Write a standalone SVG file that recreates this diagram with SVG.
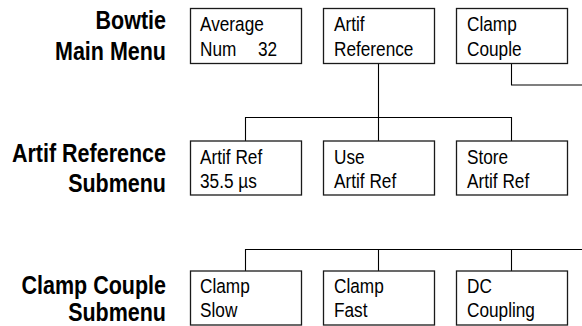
<svg xmlns="http://www.w3.org/2000/svg" width="582" height="326" viewBox="0 0 582 326">
<style>
.bg{fill:#ffffff}
.box{fill:#ffffff;stroke:#1a1a1a;stroke-width:1.3}
.conn{fill:none;stroke:#000000;stroke-width:1.1}
.lbl{font-family:"Liberation Sans",Arial,sans-serif;font-weight:bold;font-size:25px;fill:#000000;text-anchor:end}
.txt{font-family:"Liberation Sans",Arial,sans-serif;font-size:20.5px;fill:#000000}
</style>
<rect class="bg" x="0" y="0" width="582" height="326"/>
<g id="labels">
<text class="lbl" transform="translate(166 28.5) scale(0.86 1)">Bowtie</text>
<text class="lbl" transform="translate(166 59.5) scale(0.86 1)">Main Menu</text>
<text class="lbl" transform="translate(166 161.5) scale(0.86 1)">Artif Reference</text>
<text class="lbl" transform="translate(166 192) scale(0.86 1)">Submenu</text>
<text class="lbl" transform="translate(166 293.5) scale(0.86 1)">Clamp Couple</text>
<text class="lbl" transform="translate(166 321) scale(0.86 1)">Submenu</text>
</g>
<g id="connectors">
<path class="conn" d="M378.5 63 V141 M245.5 141 V117.5 H511.5 V141"/>
<path class="conn" d="M511.5 63 V85 H582"/>
<path class="conn" d="M582 249.5 H245.5 V271 M378.5 249.5 V271 M511.5 249.5 V271"/>
</g>
<g id="average-num">
<rect class="box" x="190.5" y="8.5" width="111" height="55"/>
<text class="txt" transform="translate(200 31) scale(0.84 1)">Average</text>
<text class="txt" transform="translate(200 55.5) scale(0.84 1)">Num <tspan x="69">32</tspan></text>
</g>
<g id="artif-reference">
<rect class="box" x="323.5" y="8.5" width="111" height="55"/>
<text class="txt" transform="translate(334 31) scale(0.84 1)">Artif</text>
<text class="txt" transform="translate(334 55.5) scale(0.84 1)">Reference</text>
</g>
<g id="clamp-couple">
<rect class="box" x="456.5" y="8.5" width="111" height="55"/>
<text class="txt" transform="translate(467 31) scale(0.84 1)">Clamp</text>
<text class="txt" transform="translate(467 55.5) scale(0.84 1)">Couple</text>
</g>
<g id="artif-ref-value">
<rect class="box" x="190.5" y="141" width="111" height="54"/>
<text class="txt" transform="translate(200 163.5) scale(0.84 1)">Artif Ref</text>
<text class="txt" transform="translate(200 188) scale(0.84 1)">35.5 µs</text>
</g>
<g id="use-artif-ref">
<rect class="box" x="323.5" y="141" width="111" height="54"/>
<text class="txt" transform="translate(334 163.5) scale(0.84 1)">Use</text>
<text class="txt" transform="translate(334 188) scale(0.84 1)">Artif Ref</text>
</g>
<g id="store-artif-ref">
<rect class="box" x="456.5" y="141" width="111" height="54"/>
<text class="txt" transform="translate(467 163.5) scale(0.84 1)">Store</text>
<text class="txt" transform="translate(467 188) scale(0.84 1)">Artif Ref</text>
</g>
<g id="clamp-slow">
<rect class="box" x="190.5" y="271" width="111" height="54"/>
<text class="txt" transform="translate(200 293) scale(0.84 1)">Clamp</text>
<text class="txt" transform="translate(200 317) scale(0.84 1)">Slow</text>
</g>
<g id="clamp-fast">
<rect class="box" x="323.5" y="271" width="111" height="54"/>
<text class="txt" transform="translate(334 293) scale(0.84 1)">Clamp</text>
<text class="txt" transform="translate(334 317) scale(0.84 1)">Fast</text>
</g>
<g id="dc-coupling">
<rect class="box" x="456.5" y="271" width="111" height="54"/>
<text class="txt" transform="translate(467 293) scale(0.84 1)">DC</text>
<text class="txt" transform="translate(467 317) scale(0.84 1)">Coupling</text>
</g>
</svg>
